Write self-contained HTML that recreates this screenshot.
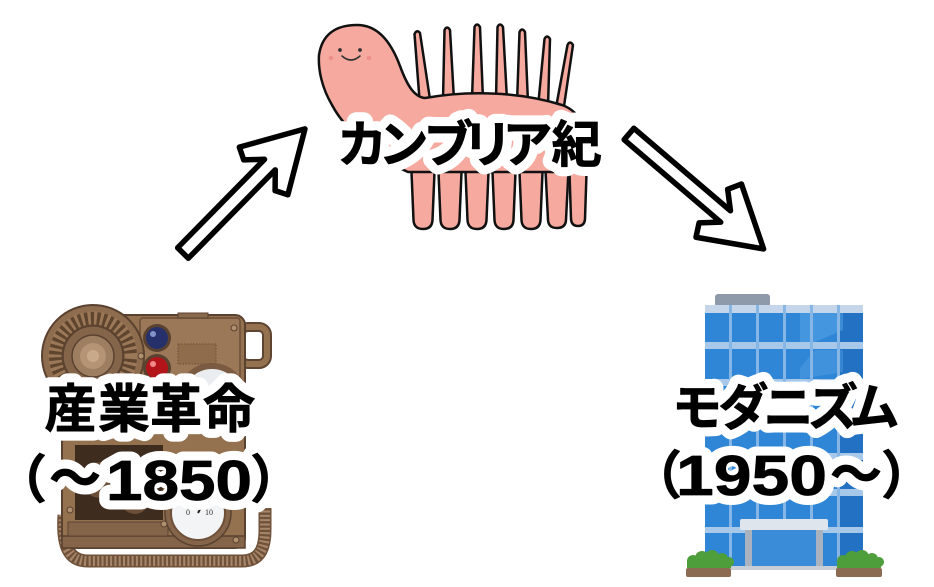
<!DOCTYPE html>
<html>
<head>
<meta charset="utf-8">
<style>
  html,body{margin:0;padding:0;background:#fff;}
  svg{display:block;}
</style>
</head>
<body>
<svg width="934" height="587" viewBox="0 0 934 587" xmlns="http://www.w3.org/2000/svg">
  <defs>
    <g id="labels">
      <text font-family="'Liberation Sans','Noto Sans CJK JP',sans-serif" font-size="50" text-anchor="middle" x="362 403.5 448.5 487.5 527.5 576.5" y="162">カンブリア紀</text>
      <text font-family="'Liberation Sans','Noto Sans CJK JP',sans-serif" font-size="52" text-anchor="middle" x="70.5 124 176 229" y="427.5">産業革命</text>
      <text font-family="'Liberation Sans','Noto Sans CJK JP',sans-serif" font-size="52" text-anchor="middle" x="21" y="498">（</text>
      <text font-family="'Liberation Sans','Noto Sans CJK JP',sans-serif" font-size="52" text-anchor="middle" x="75" y="497">～</text>
      <text font-family="'Liberation Sans',sans-serif" font-size="57" x="106" y="500" textLength="146" lengthAdjust="spacingAndGlyphs">1850</text>
      <text font-family="'Liberation Sans','Noto Sans CJK JP',sans-serif" font-size="52" text-anchor="middle" x="276" y="498">）</text>
      <text font-family="'Liberation Sans','Noto Sans CJK JP',sans-serif" font-size="50" text-anchor="middle" x="697 743.5 788.5 833 874.5" y="425">モダニズム</text>
      <text font-family="'Liberation Sans','Noto Sans CJK JP',sans-serif" font-size="52" text-anchor="middle" x="656" y="494">（</text>
      <text font-family="'Liberation Sans',sans-serif" font-size="57" x="676" y="495" textLength="151" lengthAdjust="spacingAndGlyphs">1950</text>
      <text font-family="'Liberation Sans','Noto Sans CJK JP',sans-serif" font-size="52" text-anchor="middle" x="856" y="493">～</text>
      <text font-family="'Liberation Sans','Noto Sans CJK JP',sans-serif" font-size="52" text-anchor="middle" x="907" y="494">）</text>
    </g>
  </defs>
  <rect width="934" height="587" fill="#fff"/>

  <!-- ===== Cambrian creature ===== -->
  <g stroke="#111" stroke-width="2.5" stroke-linejoin="round" fill="#f6a99f">
    <path d="M411,160 L413.5,220 Q414,229 423,229 Q432,229 432.5,220 L435,160 Z"/>
    <path d="M438,160 L440.5,220 Q441,229 450,229 Q459,229 459.5,220 L462,160 Z"/>
    <path d="M465,160 L467.5,220 Q468,229 477,229 Q486,229 486.5,220 L489,160 Z"/>
    <path d="M492,160 L494.5,220 Q495,229 504,229 Q513,229 513.5,220 L516,160 Z"/>
    <path d="M519,160 L521.5,220 Q522,229 531,229 Q540,229 540.5,220 L543,160 Z"/>
    <path d="M545,160 L548,220 Q548.5,228 557,228 Q565.5,228 566,220 L569,160 Z"/>
    <path d="M569,158 L571,219 Q571.5,226 578,226 Q584.5,226 585,219 L587,158 Z"/>
    <path d="M420,106 L414.5,34 Q417,29 420,33 L431,106 Z"/>
    <path d="M443,100 L444.5,30 Q447,25 450,30 L454,100 Z"/>
    <path d="M472,99 L474.5,27 Q477,22 480,27 L483,99 Z"/>
    <path d="M496,100 L497.5,27 Q500,22 503,27 L507,100 Z"/>
    <path d="M517,103 L519.5,32 Q522,27 525,32 L528,103 Z"/>
    <path d="M538,107 L544.5,39 Q547,34 550,39 L548,107 Z"/>
    <path d="M555,113 L567.5,45 Q570,40 573,45 L563,113 Z"/>
    <path d="M408,172 C380,160 345,130 332,105 C322,88 318,70 319,55 C322,35 335,25 357,25 C378,25 391,42 400,66 C407,85 414,97 425,98 C470,90 520,92 562,105 C582,112 590,135 588,152 C586,166 575,172 565,172 Z"/>
  </g>
  <circle cx="340" cy="50" r="1.9" fill="#333"/>
  <circle cx="360" cy="50" r="1.9" fill="#333"/>
  <path d="M342,56 Q351,64 360,56" fill="none" stroke="#333" stroke-width="1.6" stroke-linecap="round"/>
  <circle cx="331" cy="58" r="2.3" fill="#ee8580" opacity="0.7"/>
  <circle cx="369" cy="58" r="2.3" fill="#ee8580" opacity="0.7"/>

  <!-- ===== Steampunk device ===== -->
  <g>
    <path d="M64,515 C62,545 68,561 88,561 L242,561 C260,561 265,548 265,530 L265,508" fill="none" stroke="#6f523a" stroke-width="13"/>
    <path d="M64,515 C62,545 68,561 88,561 L242,561 C260,561 265,548 265,530 L265,508" fill="none" stroke="#a8866a" stroke-width="10" stroke-dasharray="2 2.3"/>
    <rect x="240" y="327" width="27" height="37" rx="8" fill="none" stroke="#5e4532" stroke-width="10"/>
    <rect x="240" y="327" width="27" height="37" rx="8" fill="none" stroke="#94724f" stroke-width="6"/>
    <rect x="62" y="315" width="183" height="233" rx="10" fill="#94724f" stroke="#5a4230" stroke-width="2"/>
    <rect x="62" y="536" width="183" height="12" fill="#85654a" stroke="#5a4230" stroke-width="1.5"/>
    <rect x="140" y="318" width="100" height="72" rx="3" fill="#9a7858" stroke="#6a4e38" stroke-width="1.5"/>
    <rect x="178" y="344" width="38" height="20" fill="#8e6c4c" stroke="#6a4e38" stroke-width="1" stroke-dasharray="1.5 1.5"/>
    <rect x="178" y="313" width="30" height="5" fill="#8a6a4c" stroke="#5a4230" stroke-width="1"/>
    <circle cx="93" cy="356" r="51" fill="#8e6c4e" stroke="#5a4230" stroke-width="2"/>
    <circle cx="93" cy="356" r="44" fill="#5f442e"/>
    <circle cx="93" cy="356" r="38" fill="none" stroke="#9a7858" stroke-width="13" stroke-dasharray="3 3.2"/>
    <circle cx="93" cy="356" r="30" fill="#85654a" stroke="#5a4230" stroke-width="1.5"/>
    <circle cx="93" cy="356" r="21" fill="#9e7e60" stroke="#5a4230" stroke-width="1.5"/>
    <circle cx="93" cy="356" r="13" fill="#b49474"/>
    <circle cx="93" cy="356" r="6" fill="#c8aa8a"/>
    <circle cx="157" cy="338" r="14" fill="#5a4230"/>
    <circle cx="157" cy="338" r="11" fill="#26316b"/>
    <circle cx="153" cy="334" r="3" fill="#8494c8"/>
    <circle cx="157" cy="368" r="14" fill="#5a4230"/>
    <circle cx="157" cy="368" r="11" fill="#b3141a"/>
    <circle cx="153" cy="364" r="3" fill="#f08a8a"/>
    <circle cx="212" cy="398" r="32" fill="#e9edf0" stroke="#7a5a40" stroke-width="6"/>
    <rect x="75" y="445" width="88" height="75" fill="#3e2c1f"/>
    <circle cx="100" cy="480" r="18" fill="#6b4f38"/>
    <circle cx="135" cy="500" r="14" fill="#6b4f38"/>
    <rect x="68" y="522" width="100" height="14" fill="#85654a" stroke="#5a4230" stroke-width="1"/>
    <circle cx="198" cy="513" r="33" fill="#85654a" stroke="#5a4230" stroke-width="1.5"/>
    <circle cx="198" cy="513" r="27" fill="#f3f4f5" stroke="#6e5038" stroke-width="2"/>
    <text x="186" y="515" font-family="'Liberation Serif',serif" font-size="8" fill="#333">0</text>
    <text x="205" y="515" font-family="'Liberation Serif',serif" font-size="8" fill="#333">10</text>
    <line x1="198" y1="513" x2="204" y2="502" stroke="#222" stroke-width="2"/>
    <circle cx="234" cy="328" r="3" fill="#b0906e" stroke="#5a4230" stroke-width="1"/>
    <circle cx="141" cy="356" r="3" fill="#b0906e" stroke="#5a4230" stroke-width="1"/>
    <circle cx="70" cy="510" r="3" fill="#b0906e" stroke="#5a4230" stroke-width="1"/>
    <circle cx="164" cy="524" r="3" fill="#b0906e" stroke="#5a4230" stroke-width="1"/>
    <circle cx="236" cy="540" r="3" fill="#b0906e" stroke="#5a4230" stroke-width="1"/>
  </g>

  <!-- ===== Building ===== -->
  <g>
    <rect x="715" y="294" width="55" height="13" rx="3" fill="#8e99a9"/>
    <rect x="705" y="305" width="158" height="263" fill="#2f86d6"/>
    <rect x="839" y="305" width="24" height="263" fill="#2271c3"/>
    <polygon points="800,313 843,313 843,330 815,342 800,342" fill="#5aa6e8" opacity="0.5"/>
    <polygon points="815,350 843,350 843,372 800,379 800,368" fill="#5aa6e8" opacity="0.4"/>
    <rect x="705" y="305" width="158" height="8" fill="#c6d6ea"/>
    <rect x="705" y="342" width="158" height="7" fill="#a8c8ea"/>
    <rect x="705" y="379" width="158" height="7" fill="#a8c8ea"/>
    <rect x="705" y="416" width="158" height="7" fill="#a8c8ea"/>
    <rect x="705" y="453" width="158" height="7" fill="#a8c8ea"/>
    <rect x="705" y="489" width="158" height="7" fill="#a8c8ea"/>
    <rect x="729" y="305" width="3" height="262" fill="#86b6e6"/>
    <rect x="756" y="305" width="3" height="262" fill="#86b6e6"/>
    <rect x="783" y="305" width="3" height="262" fill="#86b6e6"/>
    <rect x="810" y="305" width="3" height="262" fill="#86b6e6"/>
    <rect x="837" y="305" width="3" height="262" fill="#86b6e6"/>
    <rect x="705" y="527" width="158" height="6" fill="#a8c8ea"/>
    <rect x="745" y="530" width="78" height="38" fill="#3a8bd8"/>
    <rect x="745" y="530" width="7" height="38" fill="#a9b3bf"/>
    <rect x="816" y="530" width="7" height="38" fill="#a9b3bf"/>
    <rect x="740" y="519" width="88" height="11" rx="2" fill="#dfe5ec"/>
    <rect x="700" y="566" width="170" height="4" fill="#c8ced6"/>
    <g fill="#4f9e3c">
      <circle cx="693" cy="561" r="6"/><circle cx="702" cy="558" r="7"/><circle cx="712" cy="557" r="7"/><circle cx="722" cy="559" r="6"/><circle cx="729" cy="562" r="5"/>
      <rect x="687" y="560" width="44" height="8"/>
      <circle cx="843" cy="561" r="6"/><circle cx="852" cy="558" r="7"/><circle cx="862" cy="557" r="7"/><circle cx="872" cy="559" r="6"/><circle cx="879" cy="562" r="5"/>
      <rect x="837" y="560" width="44" height="8"/>
    </g>
    <rect x="686" y="568" width="45" height="9" rx="2" fill="#8b6b52"/>
    <rect x="836" y="568" width="46" height="9" rx="2" fill="#8b6b52"/>
  </g>

  <!-- ===== Arrows ===== -->
  <path transform="translate(183,253) rotate(-45.5)" d="M0,-7.5 L124,-7.5 L109,-22 L115,-34 L174,0 L115,34 L109,22 L124,7.5 L0,7.5 Z" fill="#fff" stroke="#000" stroke-width="5.5" stroke-linejoin="round"/>
  <path transform="translate(629,134) rotate(40.5)" d="M0,-7.5 L127,-7.5 L111,-22 L118,-35 L177,0 L118,35 L111,22 L127,7.5 L0,7.5 Z" fill="#fff" stroke="#000" stroke-width="5.5" stroke-linejoin="round"/>

  <!-- ===== Labels: halo then black text ===== -->
  <g fill="#fff" stroke="#fff" stroke-width="19" stroke-linejoin="round" font-weight="700">
    <use href="#labels"/>
  </g>
  <g fill="#000" stroke="#000" stroke-width="0.8" stroke-linejoin="round" font-weight="700">
    <use href="#labels"/>
  </g>
</svg>
</body>
</html>
